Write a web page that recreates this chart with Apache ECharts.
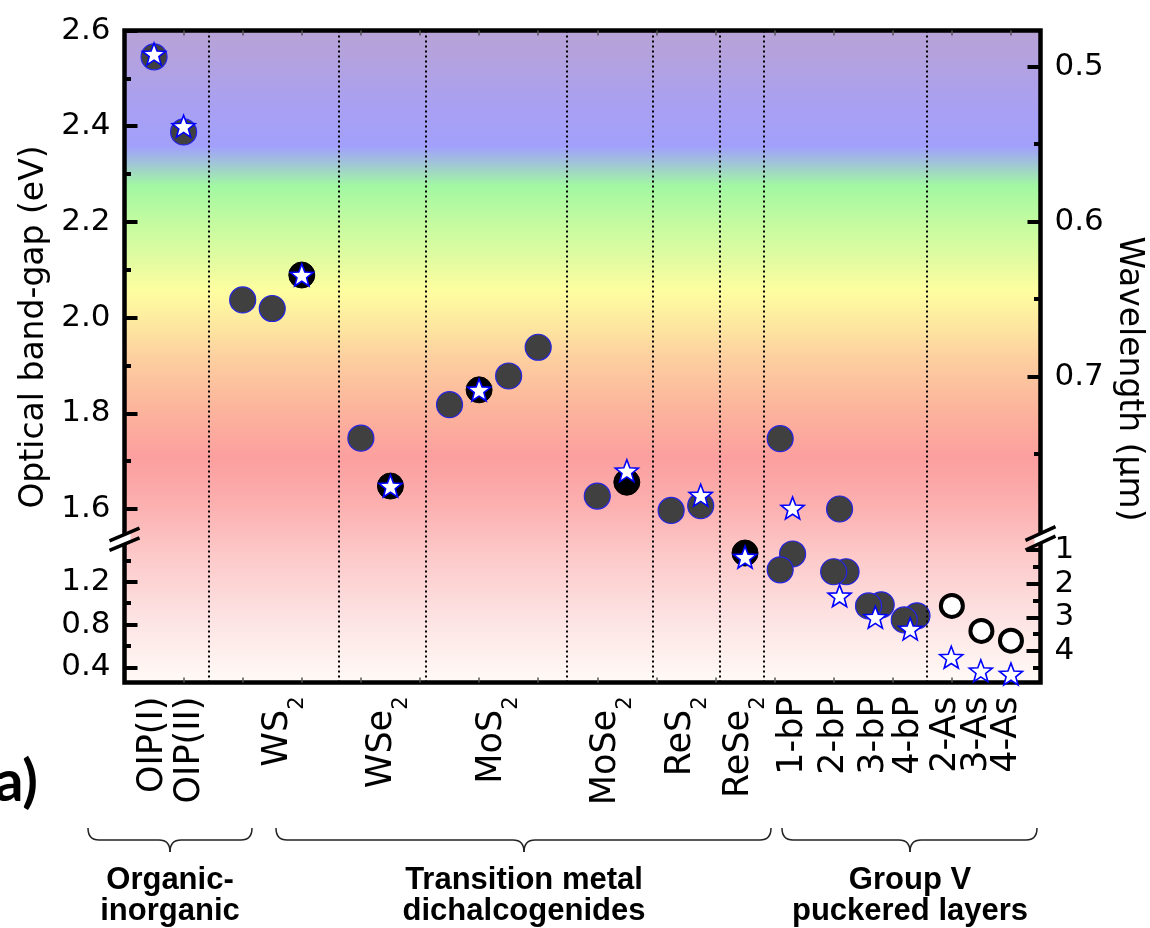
<!DOCTYPE html>
<html>
<head>
<meta charset="utf-8">
<script src="https://cdn.jsdelivr.net/npm/echarts@6/dist/echarts.min.js"></script>
<style>
html,body{margin:0;padding:0;background:#fff;}
#chart{width:1150px;height:928px;}
</style>
</head>
<body>
<div id="chart"></div>
<script>
// ---------------- DATA ----------------
const categories   = ['OIP(I)','OIP(II)','WS2','WSe2','MoS2','MoSe2','ReS2','ReSe2','1-bP','2-bP','3-bP','4-bP','2-As','3-As','4-As'];
const categoryPos  = [0.96, 2.22, 5.19, 8.71, 12.44, 16.29, 18.83, 20.80, 22.61, 24.01, 25.36, 26.55, 27.80, 28.85, 29.87];
const dividerPos   = [2.85, 7.26, 10.18, 14.98, 17.87, 20.16, 21.63, 27.15];

// upper (broken axis, 1.55 - 2.6 eV) segment
const upperGrayX  = [1, 2, 4, 5, 8, 11, 13, 14, 16, 18.5, 19.5, 22.19, 24.2];
const upperGrayE  = [2.545, 2.388, 2.037, 2.019, 1.748, 1.818, 1.878, 1.938, 1.627, 1.597, 1.607, 1.747, 1.600];
const upperBlackX = [6, 9, 12, 17];
const upperBlackE = [2.089, 1.648, 1.849, 1.656];
const upperStarX  = [1, 2, 6, 9, 12, 17, 19.5, 22.61];
const upperStarE  = [2.551, 2.400, 2.089, 1.648, 1.849, 1.680, 1.629, 1.602];

// lower (0.26 - 1.54 eV) segment
const lowerGrayX  = [22.61, 22.19, 24.42, 24.0, 25.61, 25.18, 26.82, 26.39];
const lowerGrayE  = [1.459, 1.311, 1.293, 1.293, 0.984, 0.974, 0.881, 0.843];
const lowerBlackX = [21];
const lowerBlackE = [1.468];
const lowerOpenX  = [28.0, 29.0, 30.0];
const lowerOpenE  = [0.974, 0.740, 0.649];
const lowerStarX  = [21, 24.2, 25.41, 26.59, 27.98, 28.98, 30.0];
const lowerStarE  = [1.430, 1.068, 0.868, 0.759, 0.494, 0.368, 0.337];

// axis ticks
const xTicks          = [2,4,6,8,10,12,14,16,18,20,22,24,26,28,30];
const upperLeftMajor  = [1.6, 1.8, 2.0, 2.2, 2.4, 2.6];
const upperLeftMinor  = [1.7, 1.9, 2.1, 2.3, 2.5];
const upperRightMajor = [0.5, 0.6, 0.7];
const upperRightMinor = [0.55, 0.65, 0.75];
const lowerLeftMajor  = [0.4, 0.8, 1.2];
const lowerLeftMinor  = [0.6, 1.0, 1.4];
const lowerRightMajor = [1, 2, 3, 4];
const lowerRightMinor = [1.5, 2.5, 3.5, 4.5];

const groupNames  = [['Organic-','inorganic'], ['Transition metal','dichalcogenides'], ['Group V','puckered layers']];
const panelLabel  = 'a)';
const leftTitle   = 'Optical band-gap (eV)';
const rightTitle  = 'Wavelength (μm)';

// ---------------- LAYOUT ----------------
const L = 124.5, R = 1040.5, T = 30.5, B = 682.5;
const UB = 530.5, LT = 545;
const W = R - L;
const XMAX = 31;
const upE  = [2.6 - (UB - T) / 478.5, 2.6];
const upW  = [0.5 - 36.2 / 1550, 0.5 - 36.2 / 1550 + (UB - T) / 1550];
const loE  = [0.4 - (B - 667.3) / 107, 0.4 - (B - 667.3) / 107 + (B - LT) / 107];
const loW  = [1 - (550 - LT) / 33.67, 1 - (550 - LT) / 33.67 + (B - LT) / 33.67];

const FONT = 'DejaVu Sans';

function zip(xs, ys) { return xs.map((x, i) => [x, ys[i]]); }

function starPath(inner) {
  const p = [];
  for (let i = 0; i < 10; i++) {
    const a = -Math.PI / 2 + i * Math.PI / 5;
    const r = i % 2 === 0 ? 50 : 50 * inner;
    p.push((50 + r * Math.cos(a)).toFixed(2) + ' ' + (50 + r * Math.sin(a)).toFixed(2));
  }
  return 'path://M' + p.join(' L') + ' Z';
}
const STAR = starPath(0.42);

function yAxis(grid, pos, range, inverse, ticks, len, labelled, fmt) {
  return {
    type: 'value', gridIndex: grid, position: pos, min: range[0], max: range[1], inverse: inverse,
    axisLine: { show: false }, splitLine: { show: false },
    axisTick: { show: true, inside: true, length: len, customValues: ticks,
      lineStyle: { color: '#000', width: 4 } },
    axisLabel: labelled ? { show: true, customValues: ticks, margin: 14, formatter: fmt,
      showMinLabel: true, showMaxLabel: true,
      fontFamily: FONT, fontSize: 31, color: '#000' } : { show: false }
  };
}

function richName(name) {
  const m = name.match(/^(.*[Se])2$/) || name.match(/^(.*S)2$/);
  if (m) return '{n|' + m[1] + '}{s|2}';
  return '{n|' + name + '}';
}

function nameAt(v) {
  let best = 0;
  categoryPos.forEach((p, i) => { if (Math.abs(p - v) < Math.abs(categoryPos[best] - v)) best = i; });
  return richName(categories[best]);
}

const catLabelRich = {
  n: { fontFamily: FONT, fontSize: 35, lineHeight: 28, verticalAlign: 'middle', color: '#000' },
  s: { fontFamily: FONT, fontSize: 21, lineHeight: 2, verticalAlign: 'middle',
       padding: [30, 0, -9.4, 0], color: '#000' }
};

// two interleaved label axes so neighbouring labels never get culled
function labelAxis(values, withTicks) {
  return { type: 'value', gridIndex: 2, min: 0, max: XMAX, position: 'bottom',
    axisLine: { show: false }, splitLine: { show: false },
    axisTick: withTicks ? { inside: true, length: 5, customValues: xTicks, lineStyle: { color: '#555', width: 1.5 } } : { show: false },
    axisLabel: { show: true, customValues: values, rotate: 90, margin: 14,
      showMinLabel: true, showMaxLabel: true, hideOverlap: false,
      formatter: nameAt, rich: catLabelRich } };
}
const evenPos = categoryPos.filter((p, i) => i % 2 === 0);
const oddPos  = categoryPos.filter((p, i) => i % 2 === 1);

const chart = echarts.init(document.getElementById('chart'), null, { renderer: 'canvas' });

const gradient = { type: 'linear', x: 0, y: 0, x2: 0, y2: 1, colorStops: [
  { offset: 0.00, color: '#b9a3d6' },
  { offset: 0.05, color: '#b3a2e0' },
  { offset: 0.12, color: '#a9a0f2' },
  { offset: 0.18, color: '#a2a0fc' },
  { offset: 0.205, color: '#a0c4d8' },
  { offset: 0.24, color: '#a2f8a2' },
  { offset: 0.30, color: '#c6fba0' },
  { offset: 0.36, color: '#e6fca0' },
  { offset: 0.40, color: '#fefea0' },
  { offset: 0.46, color: '#fde4a0' },
  { offset: 0.50, color: '#fdd0a0' },
  { offset: 0.58, color: '#fcb49c' },
  { offset: 0.655, color: '#fc9f9f' },
  { offset: 0.72, color: '#fcaeae' },
  { offset: 0.80, color: '#fdc8c8' },
  { offset: 0.90, color: '#fde3e3' },
  { offset: 1.00, color: '#fffbf7' }
] };

const grayStyle  = { color: '#404040', borderColor: '#2424e6', borderWidth: 1.2, opacity: 1 };
const blackStyle = { color: '#000000', borderColor: '#000000', borderWidth: 1, opacity: 1 };
const openStyle  = { color: '#ffffff', borderColor: '#000000', borderWidth: 4, opacity: 1 };
const starStyle  = { color: '#ffffff', borderColor: '#0000ff', borderWidth: 1.6, opacity: 1 };

function scatter(xi, yi, data, symbol, size, style, z) {
  return { type: 'scatter', xAxisIndex: xi, yAxisIndex: yi, data: data, symbol: symbol,
    symbolSize: size, symbolKeepAspect: true, itemStyle: style, z: z, silent: true,
    emphasis: { disabled: true } };
}

// brace made of curves and lines
function braceEls(x1, x2, xm, yTop, yLine, yTip) {
  const r = 11;
  const st = { stroke: '#222', lineWidth: 1.5, fill: null };
  return [
    { type: 'bezierCurve', z: 50, shape: { x1: x1, y1: yTop, cpx1: x1, cpy1: yLine, x2: x1 + r, y2: yLine }, style: st },
    { type: 'line', z: 50, shape: { x1: x1 + r, y1: yLine, x2: xm - r, y2: yLine }, style: st },
    { type: 'bezierCurve', z: 50, shape: { x1: xm - r, y1: yLine, cpx1: xm, cpy1: yLine, x2: xm, y2: yTip }, style: st },
    { type: 'bezierCurve', z: 50, shape: { x1: xm, y1: yTip, cpx1: xm, cpy1: yLine, x2: xm + r, y2: yLine }, style: st },
    { type: 'line', z: 50, shape: { x1: xm + r, y1: yLine, x2: x2 - r, y2: yLine }, style: st },
    { type: 'bezierCurve', z: 50, shape: { x1: x2 - r, y1: yLine, cpx1: x2, cpy1: yLine, x2: x2, y2: yTop }, style: st }
  ];
}
const braces = [[88, 252, 170], [276, 771, 524], [782, 1037, 910]];

function breakMark(cx, cy, slope) {
  const dx = 15, gap = 4.8;
  const line = (off) => ({ type: 'line', z: 101,
    shape: { x1: cx - dx, y1: cy + off + dx * slope, x2: cx + dx, y2: cy + off - dx * slope },
    style: { stroke: '#000', lineWidth: 3.5 } });
  const w = 6;
  return [
    { type: 'polygon', z: 100, shape: { points: [
      [cx - w, cy - gap + w * slope], [cx + w, cy - gap - w * slope],
      [cx + w, cy + gap - w * slope], [cx - w, cy + gap + w * slope]] },
      style: { fill: '#ffffff' } },
    line(-gap), line(gap)
  ];
}

const graphics = [
  { type: 'text', x: 34, y: 327, rotation: Math.PI / 2, z: 50,
    style: { text: leftTitle, font: '33px "DejaVu Sans"', fill: '#000', align: 'center', verticalAlign: 'middle' } },
  { type: 'text', x: 1129, y: 379, rotation: -Math.PI / 2, z: 50,
    style: { text: rightTitle, font: '33px "DejaVu Sans"', fill: '#000', align: 'center', verticalAlign: 'middle' } },
  { type: 'text', x: 38, y: 783, z: 50,
    style: { text: panelLabel, font: 'bold 57px Lato', fill: '#000', align: 'right', verticalAlign: 'middle' } }
];
braces.forEach((b) => braceEls(b[0], b[1], b[2], 828, 840, 852).forEach((e) => graphics.push(e)));
groupNames.forEach((g, i) => {
  const cx = braces[i][2];
  graphics.push({ type: 'text', x: cx, y: 880, z: 50,
    style: { text: g[0], font: 'bold 31px "Liberation Sans"', fill: '#000', align: 'center', verticalAlign: 'middle' } });
  graphics.push({ type: 'text', x: cx, y: 911, z: 50,
    style: { text: g[1], font: 'bold 31px "Liberation Sans"', fill: '#000', align: 'center', verticalAlign: 'middle' } });
});
breakMark(L, 539.3, 0.42).forEach((e) => graphics.push(e));
breakMark(R, 538.3, 0.46).forEach((e) => graphics.push(e));

const option = {
  animation: false,
  backgroundColor: '#ffffff',
  grid: [
    { left: L, top: T, width: W, height: B - T, show: true, backgroundColor: gradient,
      borderColor: '#000', borderWidth: 4.5, z: 0 },
    { left: L, top: T, width: W, height: UB - T },
    { left: L, top: LT, width: W, height: B - LT }
  ],
  xAxis: [
    { type: 'value', gridIndex: 0, min: 0, max: XMAX, show: false },
    { type: 'value', gridIndex: 1, min: 0, max: XMAX, position: 'top',
      axisLine: { show: false }, splitLine: { show: false }, axisLabel: { show: false },
      axisTick: { inside: true, length: 5, customValues: xTicks, lineStyle: { color: '#555', width: 1.5 } } },
    labelAxis(evenPos, true),
    labelAxis(oddPos, false)
  ],
  yAxis: [
    { type: 'value', gridIndex: 0, min: 0, max: 1, show: false },
    yAxis(1, 'left', upE, false, upperLeftMajor, 13, true, (v) => v.toFixed(1)),
    yAxis(1, 'left', upE, false, upperLeftMinor, 6.5, false),
    yAxis(1, 'right', upW, true, upperRightMajor, 13, true, (v) => v.toFixed(1)),
    yAxis(1, 'right', upW, true, upperRightMinor, 6.5, false),
    yAxis(2, 'left', loE, false, lowerLeftMajor, 13, true, (v) => v.toFixed(1)),
    yAxis(2, 'left', loE, false, lowerLeftMinor, 6.5, false),
    yAxis(2, 'right', loW, true, lowerRightMajor, 14, true, (v) => String(Math.round(v))),
    yAxis(2, 'right', loW, true, lowerRightMinor, 7.5, false)
  ],
  series: [
    { type: 'scatter', xAxisIndex: 0, yAxisIndex: 0, data: [], silent: true,
      markLine: { silent: true, symbol: 'none', label: { show: false },
        lineStyle: { color: '#000', width: 2, type: [2, 3] },
        data: dividerPos.map((v) => ({ xAxis: v })) } },
    scatter(1, 1, zip(upperGrayX, upperGrayE), 'circle', 26, grayStyle, 3),
    scatter(1, 1, zip(upperBlackX, upperBlackE), 'circle', 26, blackStyle, 3),
    scatter(1, 1, zip(upperStarX, upperStarE), STAR, 23, starStyle, 4),
    scatter(2, 5, zip(lowerGrayX, lowerGrayE), 'circle', 26, grayStyle, 3),
    scatter(2, 5, zip(lowerBlackX, lowerBlackE), 'circle', 26, blackStyle, 3),
    scatter(2, 5, zip(lowerOpenX, lowerOpenE), 'circle', 22, openStyle, 3),
    scatter(2, 5, zip(lowerStarX, lowerStarE), STAR, 23, starStyle, 4)
  ],
  graphic: graphics
};
chart.setOption(option);
</script>
</body>
</html>
